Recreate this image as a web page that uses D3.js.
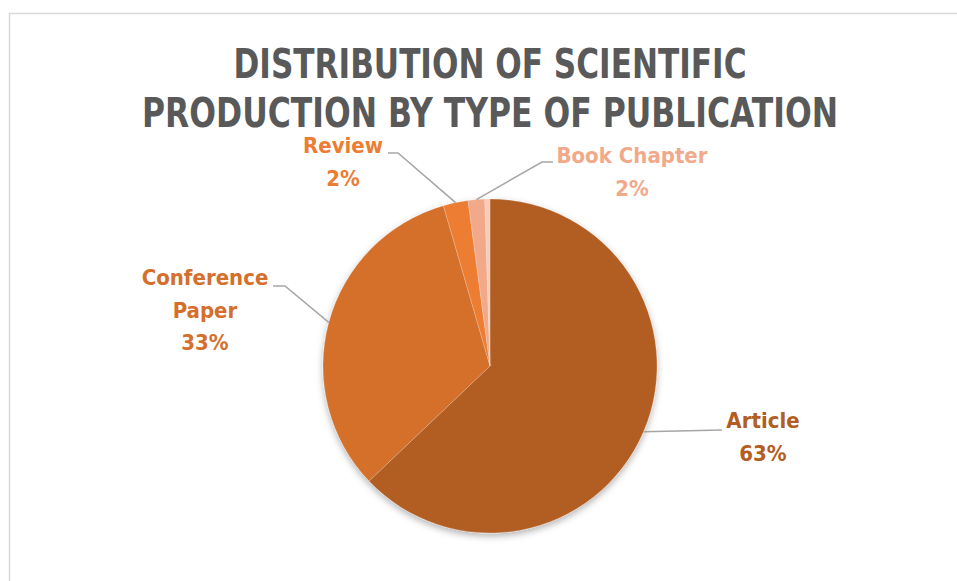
<!DOCTYPE html>
<html>
<head>
<meta charset="utf-8">
<script src="https://cdn.jsdelivr.net/npm/d3@7"></script>
<style>
  html, body { margin: 0; padding: 0; background: #fff; }
  svg { display: block; }
</style>
</head>
<body>
<script>
const width = 957,
    height = 581;

// data (share of publications, %)
const categories = ["Article", "Conference Paper", "Review", "Book Chapter", "Other"];
const values = [62.9, 32.6, 2.4, 1.6, 0.5];
const colors = ["#B25D22", "#D46F2C", "#EC7D33", "#F1A98A", "#F7CDB8"];
const titleLines = ["DISTRIBUTION OF SCIENTIFIC", "PRODUCTION BY TYPE OF PUBLICATION"];

// label layout: text lines, centre x, first baseline, elbow of the leader line
const labelLayout = {
  "Article":          { lines: ["Article"], x: 763, y: 428, elbow: null, end: [722, 430] },
  "Conference Paper": { lines: ["Conference", "Paper"], x: 205, y: 285, elbow: [285, 286], end: [273, 286] },
  "Review":           { lines: ["Review"], x: 343, y: 153, elbow: [398, 153], end: [388, 153] },
  "Book Chapter":     { lines: ["Book Chapter"], x: 632, y: 163, elbow: [542, 162], end: [553, 162] }
};

const font = "'Liberation Sans Narrow', 'DejaVu Sans Condensed', 'Open Sans', sans-serif";

const svg = d3.select('body').append('svg')
    .attr('width', width)
    .attr('height', height);

const defs = svg.append("defs");
const shadow = defs.append("filter").attr("id", "shadow")
    .attr("x", "-20%").attr("y", "-20%").attr("width", "140%").attr("height", "140%");
shadow.append("feDropShadow")
    .attr("dx", 0).attr("dy", 3).attr("stdDeviation", 3.5)
    .attr("flood-color", "#000").attr("flood-opacity", 0.3);

// chart area border
svg.append("rect")
    .attr("x", 9.5).attr("y", 13.5)
    .attr("width", width).attr("height", height)
    .attr("fill", "none")
    .attr("stroke", "#d9d9d9")
    .attr("stroke-width", 1.5);

// title
svg.append("g").selectAll("text")
    .data(titleLines)
    .enter().append("text")
    .attr("x", 490)
    .attr("y", (d, i) => 78 + i * 49)
    .attr("text-anchor", "middle")
    .attr("font-family", font)
    .attr("font-weight", "bold")
    .attr("font-size", 40)
    .attr("fill", "#595959")
    .attr("textLength", (d, i) => i === 0 ? 513 : 696)
    .attr("lengthAdjust", "spacingAndGlyphs")
    .text(d => d);

const cx = 490, cy = 366, radius = 167;

const data = categories.map((c, i) => ({ name: c, value: values[i], color: colors[i] }));
const total = d3.sum(values);

const pie = d3.pie().sort(null).value(d => d.value);
const arc = d3.arc().innerRadius(0).outerRadius(radius);
const arcs = pie(data);

const chartLayer = svg.append("g").attr("transform", `translate(${cx},${cy})`);

chartLayer.append("g")
    .attr("filter", "url(#shadow)")
    .selectAll("path")
    .data(arcs)
    .enter().append("path")
    .attr("d", arc)
    .attr("fill", d => d.data.color)
    .attr("stroke", "#fff")
    .attr("stroke-opacity", 0.35)
    .attr("stroke-width", 0.6);

// leader lines + labels
const labelled = arcs.filter(d => labelLayout[d.data.name]);

const edgePoint = d => {
  const a = (d.startAngle + d.endAngle) / 2;
  return [cx + radius * Math.sin(a), cy - radius * Math.cos(a)];
};

svg.append("g").selectAll("polyline")
    .data(labelled)
    .enter().append("polyline")
    .attr("points", d => {
      const l = labelLayout[d.data.name];
      const pts = [edgePoint(d)];
      if (l.elbow) pts.push(l.elbow);
      pts.push(l.end);
      return pts.map(p => p.join(",")).join(" ");
    })
    .attr("fill", "none")
    .attr("stroke", "#a6a6a6")
    .attr("stroke-width", 1.5);

const labels = svg.append("g").selectAll("text")
    .data(labelled)
    .enter().append("text")
    .attr("text-anchor", "middle")
    .attr("font-family", font)
    .attr("font-weight", "bold")
    .attr("font-size", 22)
    .attr("fill", d => d.data.name === "Article" ? "#B25D22" : d.data.color);

labels.each(function(d) {
  const l = labelLayout[d.data.name];
  const lines = l.lines.concat([Math.round(d.data.value / total * 100) + "%"]);
  d3.select(this).selectAll("tspan")
      .data(lines)
      .enter().append("tspan")
      .attr("x", l.x)
      .attr("y", (t, i) => l.y + i * 32.5)
      .text(t => t);
});
</script>
</body>
</html>
